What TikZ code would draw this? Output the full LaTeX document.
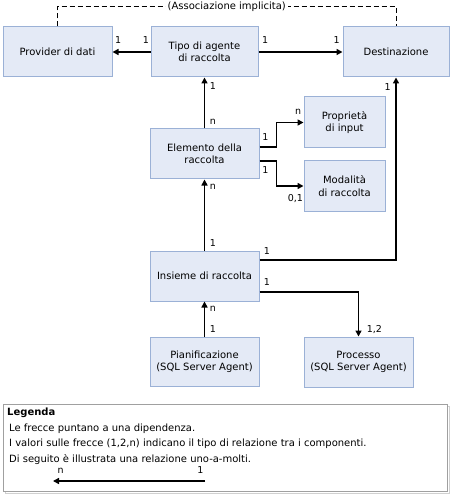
\documentclass[tikz,border=0pt]{standalone}
\usepackage{fontspec}
\setmainfont{DejaVu Sans}
\usetikzlibrary{arrows.meta, positioning, calc}
\definecolor{raccoltafill}{HTML}{E4EAF6}
\definecolor{raccoltaline}{HTML}{9BB1D6}
\definecolor{legendaline}{HTML}{A0A0A0}
\definecolor{legendashadow}{HTML}{D0D0D0}

\begin{document}
\begin{tikzpicture}[
  x=1pt, y=-1pt,
  box/.style={draw=raccoltaline, fill=raccoltafill, line width=1pt, minimum width=109pt, minimum height=50pt, align=center, font=\fontsize{10}{12.5}\selectfont, inner sep=1pt},
  smallbox/.style={box, minimum width=81pt, minimum height=51pt},
  arr/.style={-{Triangle[length=6pt,width=6pt]}, line width=1.5pt, black},
  lnk/.style={line width=1.5pt, black},
  card/.style={font=\fontsize{9.5}{11}\selectfont, inner sep=1.5pt},
  txt/.style={font=\fontsize{10}{12}\selectfont, anchor=west, inner sep=0pt}
]
\useasboundingbox (0,0) rectangle (451,494);

\node[box] (prov) at (57.5,52) {Provider di dati};
\node[box, minimum width=107pt] (tipo) at (204.5,52) {Tipo di agente\\ di raccolta};
\node[box, minimum width=106pt] (dest) at (396,52) {Destinazione};

\node[box] (elem) at (204.5,154) {Elemento della\\ raccolta};
\node[smallbox] (prop) at (344.5,122.5) {Propriet\`a\\ di input};
\node[smallbox, minimum height=50pt] (mod) at (344.5,186) {Modalit\`a\\ di raccolta};

\node[box] (ins) at (204.5,276) {Insieme di raccolta};
\node[box, minimum height=49pt] (pian) at (204.5,361.5) {Pianificazione\\ (SQL Server Agent)};
\node[box] (proc) at (358.5,362) {Processo\\ (SQL Server Agent)};

% associazione implicita
\draw[lnk, line width=1pt, dashed, dash pattern=on 5pt off 3pt] (prov.north) -- ++(0,-20) coordinate (assoc)
  -- (assoc -| dest.north) node[midway, fill=white, font=\fontsize{10}{12}\selectfont, inner sep=2pt] {(Associazione implicita)}
  -- (dest.north);

\draw[arr] (tipo) -- node[card, pos=0.12, above=6pt] {1} node[card, pos=0.85, above=6pt] {1} (prov);
\draw[arr] (tipo) -- node[card, pos=0.08, above=6pt] {1} node[card, pos=0.93, above=6pt] {1} (dest);
\draw[arr] (elem) -- node[card, pos=0.13, right=3pt] {n} node[card, pos=0.83, right=3pt] {1} (tipo);

\draw[arr] ([yshift=7pt]elem.east) -- node[card, pos=0.35, above=4pt] {1} ++(17,0) |- node[card, pos=0.9, above=6pt] {n} (prop.west);
\draw[arr] ([yshift=-7pt]elem.east) -- node[card, pos=0.35, below=3pt] {1} ++(17,0) |- node[card, pos=0.85, below=6pt] {0,1} (mod.west);

\draw[arr] (ins) -- node[card, pos=0.11, right=3pt] {1} node[card, pos=0.9, right=3pt] {n} (elem);
\draw[arr] ([yshift=16pt]ins.east) -| node[card, pos=0, above right=3pt and 2pt] {1} node[card, pos=0.975, left=3pt] {1} (dest.south);
\draw[arr] ([yshift=-16pt]ins.east) -| node[card, pos=0, above right=4pt and 2pt] {1} node[card, pos=0.92, right=6pt] {1,2} (proc.north);
\draw[arr] (pian) -- node[card, pos=0.22, right=3pt] {1} node[card, pos=0.8, right=3pt] {n} (ins);

% legenda
\node[draw=legendashadow, line width=1pt, minimum width=444pt, minimum height=87pt, inner sep=0pt] (legshadow) at (227,449.5) {};
\node[draw=legendaline, fill=white, line width=1pt, minimum width=444pt, minimum height=87pt, inner sep=0pt] (legenda) at (225,447.5) {};
\node[txt, font=\fontsize{10}{12}\selectfont\bfseries] (legtitle) at (7,413) {Legenda};
\node[txt] (leg1) at (9,428.5) {Le frecce puntano a una dipendenza.};
\node[txt] (leg2) at (9,444) {I valori sulle frecce (1,2,n) indicano il tipo di relazione tra i componenti.};
\node[txt] (leg3) at (9,459.5) {Di seguito \`e illustrata una relazione uno-a-molti.};
\coordinate (legfrom) at (205,481);
\coordinate (legto) at (53,481);
\draw[arr] (legfrom) -- node[card, pos=0.03, above=5pt] {1} node[card, pos=0.95, above=5pt] {n} (legto);
\end{tikzpicture}
\end{document}
